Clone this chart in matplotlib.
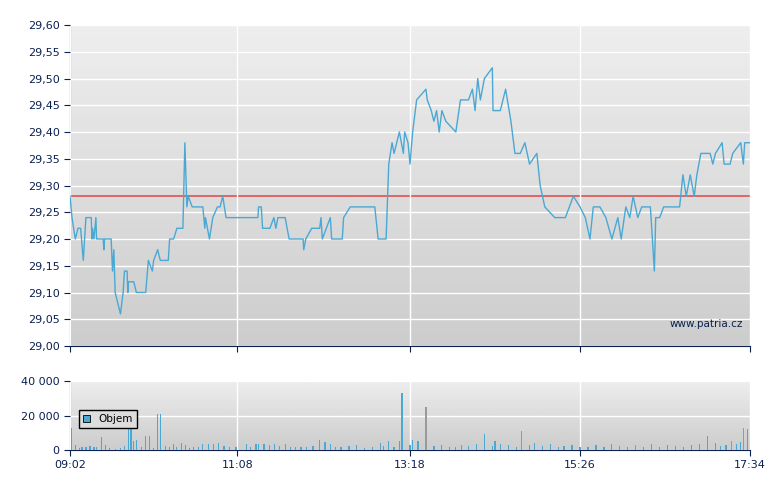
import numpy as np
import matplotlib
matplotlib.use("Agg")
import matplotlib.pyplot as plt

# intraday price ticks: (minutes after 09:02, price)
price_pts = [
    (0, 29.28), (1.5, 29.24), (4, 29.20), (6, 29.22), (8, 29.22), (10, 29.16), (12, 29.24),
    (16, 29.24), (16.5, 29.20), (17, 29.22), (18, 29.20), (19.5, 29.24), (20, 29.20),
    (25, 29.20), (25.5, 29.18), (26, 29.20), (31, 29.20), (32, 29.14), (33, 29.18),
    (34, 29.10), (36, 29.08), (38, 29.06), (40, 29.10), (41, 29.14), (43, 29.14),
    (43.5, 29.10), (44, 29.12), (48, 29.12), (50, 29.10), (57, 29.10), (59, 29.16),
    (62, 29.14), (63, 29.16), (66, 29.18), (68, 29.16), (74, 29.16), (75, 29.20),
    (78, 29.20), (80.5, 29.22), (85, 29.22), (86.5, 29.38), (88, 29.26), (89, 29.28),
    (92, 29.26), (100, 29.26), (101.5, 29.22), (102, 29.24), (105, 29.20), (107.5, 29.24),
    (111, 29.26), (113, 29.26), (115, 29.28), (117.5, 29.24), (141.5, 29.24), (142, 29.26),
    (144, 29.26), (145, 29.22), (150.5, 29.22), (153.5, 29.24), (155, 29.22), (156.5, 29.24),
    (162, 29.24), (165, 29.20), (175.5, 29.20), (176, 29.18), (177.5, 29.20), (182, 29.22),
    (188, 29.22), (189, 29.24), (190, 29.20), (196, 29.24), (197, 29.20), (205, 29.20),
    (206, 29.24), (211, 29.26), (229.5, 29.26), (232, 29.20), (238, 29.20), (240, 29.34),
    (242.5, 29.38), (244, 29.36), (248, 29.40), (251, 29.36), (252, 29.40), (254.5, 29.38),
    (256, 29.34), (258, 29.40), (261, 29.46), (268, 29.48), (269, 29.46), (272, 29.44),
    (274, 29.42), (276, 29.44), (278, 29.40), (280, 29.44), (283, 29.42), (290.5, 29.40),
    (294, 29.46), (300, 29.46), (303, 29.48), (305, 29.44), (307, 29.50), (309, 29.46),
    (312, 29.50), (318, 29.52), (318.5, 29.44), (324, 29.44), (328, 29.48), (332, 29.42),
    (335, 29.36), (339, 29.36), (342.5, 29.38), (346, 29.34), (351.5, 29.36), (354, 29.30),
    (357.5, 29.26), (365, 29.24), (373, 29.24), (379, 29.28), (384, 29.26), (388, 29.24),
    (391.5, 29.20), (394, 29.26), (399, 29.26), (403.5, 29.24), (408, 29.20), (412.5, 29.24),
    (415, 29.20), (418.5, 29.26), (421.5, 29.24), (424, 29.28), (427.5, 29.24), (430.5, 29.26),
    (437, 29.26), (440, 29.14), (441, 29.24), (444, 29.24), (447, 29.26), (459, 29.26),
    (461.5, 29.32), (464, 29.28), (467, 29.32), (470, 29.28), (472, 29.32), (475, 29.36),
    (482, 29.36), (484, 29.34), (486, 29.36), (491, 29.38), (492.5, 29.34), (497, 29.34),
    (499, 29.36), (505, 29.38), (507, 29.34), (508, 29.38), (512, 29.38),
]
price_min = [p[0] for p in price_pts]
price = [p[1] for p in price_pts]
ref_price = 29.28

# volume bars: (minute, volume)
vol_pts = [
    (1, 13000), (4, 3000), (7, 1000), (9, 2000), (12, 1500), (15, 2500), (18, 2000), (20, 1500),
    (24, 7500), (27, 3000), (30, 1000), (34, 800), (38, 1200), (41, 2500), (44, 14500),
    (46, 14500), (48, 5500), (50, 6000), (54, 1500), (57, 8000), (60, 8000), (63, 1000),
    (66, 21000), (68, 21000), (72, 2500), (75, 1500), (78, 3500), (80, 2000), (84, 4000),
    (87, 3000), (90, 1000), (93, 2000), (97, 1500), (100, 3500), (104, 3500), (108, 3500),
    (112, 4000), (116, 2500), (120, 1500), (125, 1500), (133, 3500), (136, 2000), (140, 3500),
    (142, 3500), (146, 3500), (150, 3000), (154, 3500), (158, 2500), (162, 3500), (166, 1500),
    (170, 1500), (174, 2000), (178, 1500), (183, 2500), (188, 6000), (192, 4500), (196, 3500),
    (200, 2000), (204, 1500), (210, 2500), (216, 3000), (222, 1000), (228, 2000), (234, 4000),
    (236, 2500), (240, 5000), (244, 1500), (248, 5000), (250, 33000), (256, 3000), (258, 6000),
    (262, 5000), (268, 25000), (274, 2500), (280, 3000), (286, 1500), (290, 2000), (295, 3000),
    (300, 2500), (306, 3500), (312, 9000), (318, 2500), (320, 5000), (324, 3500), (330, 3000),
    (336, 2000), (340, 11000), (346, 3000), (350, 4000), (356, 2500), (362, 3500), (368, 2000),
    (372, 2500), (378, 3000), (384, 1500), (390, 2000), (396, 3000), (402, 2000), (408, 3500),
    (414, 2500), (420, 2000), (426, 3000), (432, 1500), (438, 3500), (444, 2000), (450, 3000),
    (456, 2500), (462, 2000), (468, 3000), (474, 3500), (480, 8000), (486, 4000), (490, 2500),
    (494, 3000), (498, 5500), (502, 3500), (505, 4500), (507, 13000), (510, 12000),
]
vol_min = [v[0] for v in vol_pts]
vol = [v[1] for v in vol_pts]
grey_min = {268, 340, 426, 498, 507}

tick_min = [0, 126, 256, 384, 512]
tick_lbl = ["09:02", "11:08", "13:18", "15:26", "17:34"]

navy = "#0a2050"
blue = "#4aa8d4"

fig = plt.figure(figsize=(7.8, 4.9), dpi=100)
fig.patch.set_facecolor("white")


def style(ax, ymin, ymax):
    grad = np.linspace(0.93, 0.80, 100).reshape(-1, 1)
    ax.imshow(grad, cmap="gray", vmin=0, vmax=1, aspect="auto",
              extent=(0, 512, ymin, ymax), origin="upper", zorder=0)
    ax.set_xlim(0, 512)
    ax.set_ylim(ymin, ymax)
    for s in ("top", "right"):
        ax.spines[s].set_visible(False)
    for s in ("left", "bottom"):
        ax.spines[s].set_color(navy)
    ax.tick_params(colors=navy, labelsize=8, length=4, direction="out")
    ax.grid(True, color="white", lw=1, zorder=1)
    ax.set_axisbelow(False)
    ax.set_xticks(tick_min)


ax = fig.add_axes([70 / 780, 1 - 346 / 490, 680 / 780, 321 / 490])
style(ax, 29.0, 29.6)
yt = np.round(np.arange(29.0, 29.61, 0.05), 2)
ax.set_yticks(yt)
ax.set_yticklabels([f"{v:.2f}".replace(".", ",") for v in yt])
ax.set_xticklabels([])
ax.axhline(ref_price, color="#e05050", lw=1.2, zorder=2)
ax.plot(price_min, price, color=blue, lw=1, zorder=3)
ax.text(0.99, 0.06, "www.patria.cz", transform=ax.transAxes, ha="right",
        color=navy, fontsize=7.5, zorder=4)

axv = fig.add_axes([70 / 780, 40 / 490, 680 / 780, 69 / 490])
style(axv, 0, 40000)
axv.set_yticks([0, 20000, 40000])
axv.set_yticklabels(["0", "20 000", "40 000"])
axv.set_xticklabels(tick_lbl)
colors = ["#999999" if m in grey_min else blue for m in vol_min]
axv.bar(vol_min, vol, width=0.9, color=colors, zorder=3)
h = axv.bar([0], [0], color=blue, edgecolor="black", lw=0.6)
leg = axv.legend([h], ["Objem"], loc="center left", fontsize=7.5, handlelength=0.7,
                 handleheight=0.7, fancybox=False, framealpha=1,
                 bbox_to_anchor=(0.005, 0.45))
leg.get_frame().set_edgecolor("black")
leg.get_frame().set_facecolor("#dddddd")

fig.savefig("out.png", dpi=100)
